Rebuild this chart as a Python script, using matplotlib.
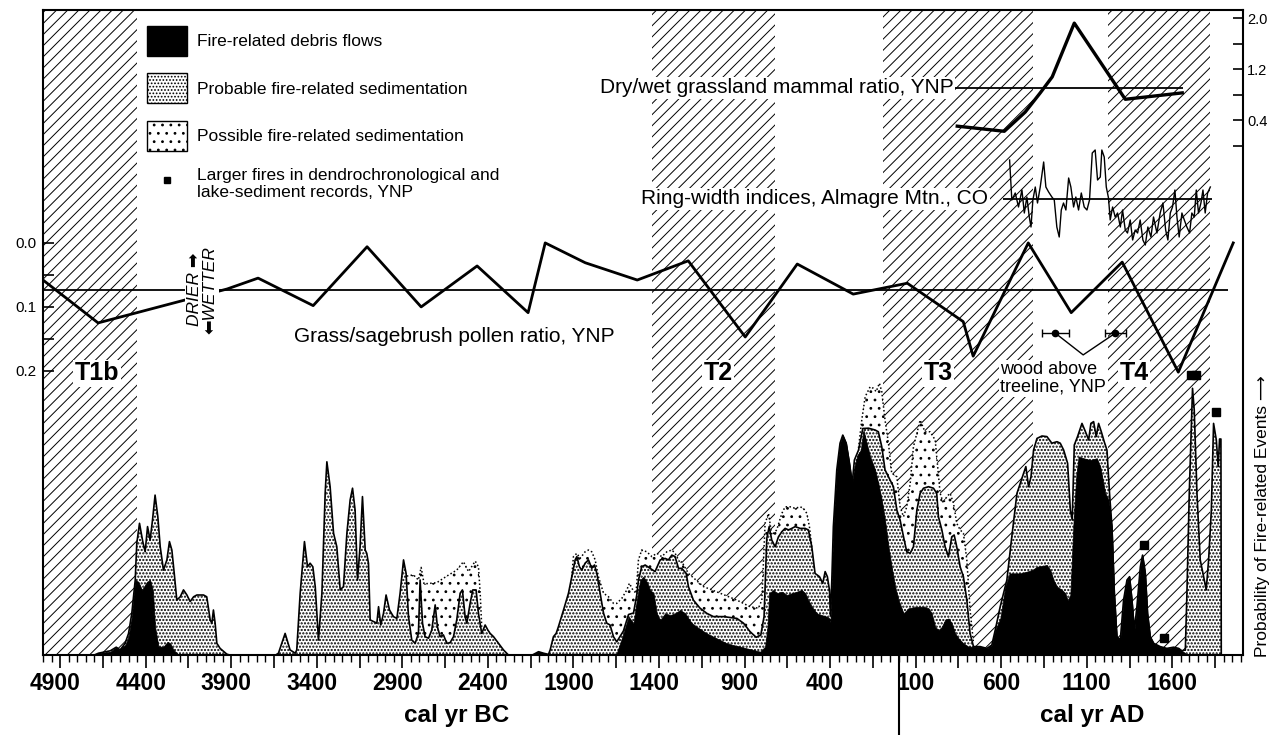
import matplotlib
matplotlib.use("Agg")
import matplotlib.pyplot as plt
from matplotlib.ticker import MultipleLocator, FuncFormatter
from matplotlib.patches import Patch
from matplotlib.lines import Line2D
import matplotlib.transforms as mtransforms

plt.rcParams["font.family"] = ["Liberation Sans", "DejaVu Sans"]
plt.rcParams["hatch.linewidth"] = 0.7

# years: BC negative, AD positive
period_start = [-5000, -1440, -90, 1226]
period_end = [-4450, -721, 787, 1822]
period_label = ["T1b", "T2", "T3", "T4"]
period_label_year = [-4684, -1054, 232, 1378]

pollen_year = [-5000, -4678, -4210, -3924, -3743, -3421, -3106, -2790, -2463, -2165, -2065,
               -1831, -1527, -1229, -896, -592, -265, 51, 378, 436, 758, 1009, 1307, 1635, 1956]
pollen_ratio = [0.058, 0.125, 0.092, 0.072, 0.055, 0.098, 0.006, 0.100, 0.036, 0.109, 0.0,
                0.031, 0.058, 0.028, 0.147, 0.033, 0.080, 0.063, 0.123, 0.177, 0.0, 0.109, 0.030, 0.202, 0.0]
pollen_mean = 0.073

mammal_year = [343, 618, 740, 828, 898, 1027, 1325, 1658]
mammal_ratio = [0.31, 0.23, 0.53, 0.83, 1.08, 1.92, 0.73, 0.83]
mammal_mean = 0.91

ring_year = [649, 662, 682, 701, 721, 735, 750, 764, 774, 785, 799, 812, 828, 848, 861, 877, 896, 910,
             925, 939, 951, 964, 978, 994, 1007, 1023, 1036, 1052, 1068, 1085, 1101, 1116, 1132, 1149,
             1163, 1179, 1188, 1202, 1214, 1227, 1237, 1251, 1266, 1280, 1296, 1309, 1325, 1338, 1354,
             1368, 1383, 1397, 1412, 1428, 1442, 1457, 1475, 1490, 1510, 1529, 1545, 1561, 1574, 1588,
             1601, 1615, 1627, 1640, 1656, 1670, 1685, 1701, 1714, 1728, 1740, 1753, 1767, 1779, 1792,
             1806, 1822]
ring_index = [1.39, 0.99, 1.06, 0.92, 1.09, 0.86, 1.02, 0.82, 0.72, 0.99, 1.12, 0.96, 1.12, 1.37, 1.12,
              1.07, 1.02, 0.99, 0.72, 0.62, 0.89, 0.96, 0.89, 1.21, 1.12, 0.92, 1.02, 0.89, 1.06, 0.92,
              0.89, 0.99, 1.46, 1.49, 1.19, 1.22, 1.49, 1.42, 1.12, 1.01, 0.79, 0.92, 0.82, 0.86, 0.72,
              0.89, 0.69, 0.66, 0.79, 0.59, 0.69, 0.66, 0.79, 0.59, 0.54, 0.72, 0.62, 0.82, 0.66, 0.86,
              0.96, 0.69, 0.59, 0.86, 0.92, 1.09, 0.82, 0.62, 0.86, 0.79, 0.72, 0.66, 0.86, 0.82, 1.09,
              0.86, 0.96, 1.09, 0.86, 1.06, 1.12]
ring_mean = 1.0

debris_year = [-4700, -4676, -4607, -4572, -4559, -4520, -4500, -4481, -4461, -4442, -4422, -4409, -4393,
               -4374, -4358, -4345, -4325, -4296, -4272, -4257, -4237, -4218, -4200,
               -2140, -2104, -2075, -2046, -2036,
               -1660, -1647, -1608, -1578, -1549, -1530, -1510, -1491, -1471, -1452, -1432, -1413, -1393,
               -1364, -1335, -1306, -1276, -1247, -1228, -1208, -1179, -1150, -1121, -1082, -1043, -1004,
               -965, -926, -887, -848, -809, -780, -766, -756, -731, -712, -682, -653, -624, -595, -566,
               -546, -527, -507, -478, -449, -420, -404, -398, -390, -381, -361, -342, -326, -306, -287,
               -271, -258, -240, -221, -205, -186, -166, -151, -137, -118, -98, -79, -59, -40, -20, 0, 29,
               58, 87, 116, 146, 175, 194, 214, 233, 253, 272, 292, 311, 331, 350, 379, 408, 438, 477, 516,
               545, 565, 594, 624, 649, 682, 711, 750, 780, 809, 838, 867, 887, 906, 926, 955, 974, 988,
               1004, 1023, 1039, 1052, 1081, 1120, 1159, 1179, 1208, 1228, 1247, 1261, 1276, 1296, 1315,
               1335, 1350, 1364, 1378, 1393, 1413, 1426, 1442, 1455, 1471, 1491, 1529, 1568, 1607, 1637,
               1656, 1676, 1690]
debris_prob = [0, .006, .011, .026, .017, .033, .061, .128, .25, .244, .217, .228, .244,
               .25, .217, .094, .028, .028, .044, .039, .017, .006, 0,
               0, .011, .006, .002, 0,
               0, .006, .072, .128, .106, .183, .25, .261, .244, .217, .206, .139, .117,
               .139, .133, .139, .15, .139, .122, .106, .094, .083, .072, .061, .05, .039,
               .033, .028, .022, .017, .011, .028, .094, .206, .217, .206, .211, .2, .206, .211, .217,
               .206, .183, .161, .139, .133, .128, .122, .11, .25, .428, .617, .706, .733, .706, .639,
               .572, .628, .667, .683, .75, .706, .661, .639, .617, .572, .517, .45, .361, .294, .228, .183, .139,
               .156, .159, .161, .161, .156, .139, .094, .083, .094, .117, .122, .106, .072, .056, .039, .028, .028, .028, .022,
               .033, .083, .12, .228, .272, .272, .272, .278, .283, .294, .297, .3, .283, .25, .228, .217, .206, .183,
               .2, .45, .6, .661, .656, .65, .656, .628, .539, .517, .428, .206, .061, .05, .183,
               .25, .261, .183, .083, .161, .294, .333, .272, .139, .061, .039, .028, .022, .026, .022,
               .014, .006, 0]

probable_year = [-4700, -4676, -4607, -4572, -4549, -4520, -4500, -4481, -4461, -4452, -4436, -4417, -4403,
                 -4389, -4374, -4360, -4345, -4329, -4315, -4296, -4276, -4261, -4247, -4233, -4218, -4198,
                 -4179, -4159, -4140, -4120, -4101, -4062, -4043, -4023, -4013, -4004, -3994, -3984, -3965,
                 -3926, -3910,
                 -3640, -3624, -3585, -3556, -3526, -3517, -3497, -3472, -3454, -3439, -3423, -3409, -3390,
                 -3370, -3351, -3341, -3322, -3302, -3283, -3263, -3244, -3224, -3205, -3191, -3176, -3162,
                 -3147, -3133, -3117, -3108, -3098, -3088, -3049, -3039, -3026, -3010, -2995, -2975, -2952,
                 -2932, -2913, -2893, -2878, -2864, -2845, -2825, -2806, -2796, -2782, -2767, -2747, -2728,
                 -2708, -2695, -2679, -2660, -2640, -2621, -2601, -2582, -2562, -2549, -2533, -2523, -2504,
                 -2488, -2469, -2455, -2436, -2416, -2400, -2387, -2367, -2338, -2309, -2280,
                 -2140, -2104, -2075, -2046, -2036, -2017, -2001, -1988, -1958, -1929, -1910, -1890, -1880,
                 -1865, -1851, -1832, -1812, -1793, -1777, -1763, -1744, -1724, -1705, -1686, -1666, -1647,
                 -1608, -1578, -1549, -1530, -1520, -1501, -1481, -1452, -1423, -1393, -1364, -1345, -1325,
                 -1306, -1286, -1267, -1241, -1228, -1199, -1160, -1121, -1082, -1023, -945, -906, -868,
                 -832, -805, -786, -770, -756, -741, -721, -702, -682, -663, -643, -624, -604, -575, -546,
                 -527, -507, -488, -462, -443, -429, -416, -404, -398, -390, -381, -361, -342, -326, -306,
                 -287, -271, -258, -234, -209, -176, -137, -118, -98, -79, -49, -30, -10, 9, 29, 48, 68, 87,
                 107, 126, 146, 175, 204, 223, 233, 253, 272, 292, 311, 325, 340, 360, 379, 399, 418, 438,
                 477, 516, 545, 565, 594, 633, 663, 692, 711, 731, 744, 760, 774, 789, 809, 838, 867, 896,
                 926, 945, 965, 988, 1004, 1015, 1027, 1046, 1072, 1091, 1111, 1124, 1140, 1155, 1169, 1185,
                 1202, 1218, 1233, 1247, 1261, 1276, 1296, 1315, 1335, 1350, 1364, 1378, 1393, 1413, 1426,
                 1442, 1455, 1471, 1491, 1529, 1568, 1607, 1637, 1656, 1676, 1685, 1699, 1711, 1718, 1728,
                 1744, 1763, 1783, 1798, 1812, 1828, 1841, 1857, 1868, 1876, 1884, 1886]
probable_prob = [0, .006, .014, .026, .017, .039, .072, .139, .25, .372, .439, .378, .344,
                 .428, .383, .45, .533, .461, .361, .283, .317, .378, .35, .272, .183, .194,
                 .217, .2, .178, .194, .2, .2, .194, .117, .106, .15, .106, .039, .022,
                 .003, 0,
                 0, .006, .072, .017, .006, .017, .206, .378, .294, .306, .294, .228, .05,
                 .206, .539, .644, .561, .406, .361, .217, .228, .406, .517, .556, .483, .25,
                 .361, .528, .35, .339, .306, .117, .106, .161, .1, .139, .2, .15, .128,
                 .122, .206, .317, .272, .128, .05, .039, .072, .25, .106, .061, .056, .083,
                 .167, .094, .061, .067, .039, .041, .061, .117, .206, .217, .128, .106, .172,
                 .217, .217, .139, .072, .1, .083, .072, .061, .039, .017, 0,
                 0, .011, .006, .002, .017, .061, .072, .094, .15, .206, .261, .317, .328,
                 .294, .283, .306, .317, .289, .3, .272, .206, .139, .106, .1, .061, .044,
                 .08, .135, .14, .2, .25, .294, .3, .289, .278, .317, .322, .317, .333,
                 .328, .289, .289, .272, .228, .183, .156, .139, .128, .128, .122, .106, .078,
                 .059, .067, .128, .389, .428, .383, .361, .394, .411, .422, .417, .422, .428, .422, .422,
                 .417, .361, .272, .261, .239, .278, .261, .217, .13, .25, .428, .617, .706, .733, .706,
                 .639, .572, .65, .683, .755, .756, .75, .744, .694, .617, .583, .561, .483, .45, .394, .344, .339, .361,
                 .483, .539, .556, .561, .556, .539, .461, .417, .361, .328, .394, .4, .361, .294, .261, .183, .072, .028,
                 .028, .022, .033, .083, .161, .25, .4, .539, .572, .606, .628, .561, .594, .683, .722, .73, .728, .706,
                 .711, .706, .683, .639, .483, .45, .7, .728, .772, .746, .717, .772, .778, .728, .772, .744,
                 .711, .683, .539, .428, .206, .061, .05, .183, .25, .261, .183, .083, .161, .294, .333,
                 .272, .139, .061, .039, .028, .022, .026, .022, .014, .017, .2, .539, .761, .889, .817,
                 .539, .317, .261, .217, .317, .483, .772, .717, .628, .72, .72, 0]

# possible fire-related sedimentation, only where it rises above the probable curve
possible_year = [
    [-2874, -2835, -2806, -2790, -2773, -2699, -2640, -2582, -2543, -2513, -2474, -2455, -2445, -2436],
    [-1910, -1900, -1880, -1861, -1832, -1812, -1793, -1773, -1754, -1724, -1695, -1666, -1647, -1617,
     -1588, -1573, -1553, -1534, -1520, -1501, -1471, -1442, -1413, -1384, -1354, -1325, -1306, -1276,
     -1267, -1228, -1140, -1043, -945, -868, -819, -799, -780, -760, -741, -712, -682, -663, -634, -604,
     -575, -556, -536, -521, -507],
    [-234, -215, -195, -166, -147, -131, -112, -98, -79, -59, -40, -10, 9, 29, 48, 68, 87, 107, 126, 142,
     155, 184, 214, 243, 262, 282, 301, 321, 340, 360, 379, 399, 418, 438],
]
possible_prob = [
    [.263, .267, .25, .292, .237, .241, .263, .283, .311, .278, .313, .294, .206, .094],
    [.261, .328, .339, .322, .344, .35, .344, .317, .261, .206, .194, .172, .172, .189,
     .217, .239, .217, .206, .317, .35, .344, .328, .339, .328, .344, .35, .339, .306,
     .311, .272, .228, .206, .183, .161, .156, .183, .439, .472, .4, .417, .472, .494, .494, .489,
     .494, .489, .472, .428, .361],
    [.69, .783, .861, .894, .889, .878, .906, .878, .783, .706, .606, .594, .494, .461, .494, .572, .694,
     .739, .783, .761, .744, .744, .717, .539, .506, .528, .539, .506, .439, .417, .406, .317, .15, .039],
]

large_fire_year = [1432, 1549, 1712, 1738, 1855]
large_fire_prob = [0.367, 0.057, 0.933, 0.933, 0.81]

wood_year = [916, 1267]
wood_err = [80, 60]
wood_level = 0.141

fig = plt.figure(figsize=(12.79, 7.35), dpi=100)
ax = fig.add_axes([43 / 1279, 80 / 735, 1200 / 1279, 645 / 735])
ax.set_xlim(-5000, 2013)
ax.set_ylim(0, 2.15)
ax.set_yticks([])
for s in ax.spines.values():
    s.set_linewidth(1.5)

ax.xaxis.set_major_locator(MultipleLocator(250, offset=100))
ax.xaxis.set_minor_locator(MultipleLocator(50))


def year_label(v, pos):
    v = int(round(v))
    return str(abs(v)) if (v - 100) % 500 == 0 else ""


ax.xaxis.set_major_formatter(FuncFormatter(year_label))
ax.tick_params(axis="x", which="major", length=9, width=1.2, pad=3, labelsize=16.5)
ax.tick_params(axis="x", which="minor", length=5, width=1.0)

for a, b in zip(period_start, period_end):
    ax.axvspan(a, b, facecolor="none", edgecolor="black", hatch="///", lw=0, zorder=0.5)

plt.rcParams["hatch.linewidth"] = 0.8
for xs, ys in zip(possible_year, possible_prob):
    ax.fill_between(xs, 0, ys, facecolor="white", edgecolor="black", hatch="..", lw=0, zorder=1.5)
    ax.plot(xs, ys, ls=(0, (1, 1.5)), color="black", lw=1.1, zorder=2.0)
plt.rcParams["hatch.linewidth"] = 1.05
ax.fill_between(probable_year, 0, probable_prob, facecolor="white", edgecolor="black",
                hatch=".....", lw=0, zorder=1.7)
plt.rcParams["hatch.linewidth"] = 0.7
ax.fill_between(debris_year, 0, debris_prob, facecolor="black", edgecolor="black", lw=0.5, zorder=1.9)
ax.plot(probable_year, probable_prob, color="black", lw=1.2, zorder=2.1)
ax.plot(large_fire_year, large_fire_prob, ls="", marker="s", color="black", ms=5.5, zorder=2.5)

for lab, x in zip(period_label, period_label_year):
    ax.text(x, 0.94, lab, ha="center", va="center", fontsize=18, fontweight="bold", zorder=5,
            bbox=dict(facecolor="white", edgecolor="none", pad=1))

ax.text(594, 0.923, "wood above\ntreeline, YNP", ha="left", va="center", fontsize=13,
        linespacing=1.0, zorder=5, bbox=dict(facecolor="white", edgecolor="none", pad=1))

# year 0 divider and era labels
ax.plot([0, 0], [0, -0.124], transform=ax.get_xaxis_transform(), color="black", lw=1.5, clip_on=False)
ax.text(-2580, -0.094, "cal yr BC", transform=ax.get_xaxis_transform(), ha="center", va="center",
        fontsize=17.5, fontweight="bold", family=["Liberation Sans Narrow", "Liberation Sans"])
ax.text(1130, -0.094, "cal yr AD", transform=ax.get_xaxis_transform(), ha="center", va="center",
        fontsize=17.5, fontweight="bold", family=["Liberation Sans Narrow", "Liberation Sans"])
ax.text(1.016, -0.003, "Probability of Fire-related Events \u27f6", transform=ax.transAxes,
        rotation=90, ha="center", va="bottom", fontsize=12.5)

# pollen ratio (left axis, inverted)
ax_pol = ax.twinx()
ax_pol.set_ylim(0.644, -0.364)
ax_pol.yaxis.tick_left()
ax_pol.set_yticks([0.0, 0.1, 0.2])
ax_pol.set_yticks([0.05, 0.15], minor=True)
ax_pol.yaxis.set_major_formatter(FuncFormatter(lambda v, p: f"{v:.1f}"))
ax_pol.tick_params(axis="y", which="both", direction="in", length=8, width=1.2, labelsize=11, pad=5)
for s in ax_pol.spines.values():
    s.set_visible(False)
ax_pol.hlines(pollen_mean, -5000, 1925, color="black", lw=1.3, zorder=2)
ax_pol.plot(pollen_year, pollen_ratio, color="black", lw=2.0, zorder=3)
ax_pol.text(-2597, 0.147, "Grass/sagebrush pollen ratio, YNP", ha="center", va="center", fontsize=15)
ax_pol.text(-4070, pollen_mean, "DRIER \u27a1\n\u2b05WETTER", rotation=90, ha="center", va="center",
            style="italic", fontsize=12.5, multialignment="center", linespacing=1.1, zorder=10,
            bbox=dict(facecolor="white", edgecolor="none", pad=1))
ax_pol.errorbar(wood_year, [wood_level] * 2, xerr=wood_err, fmt="o", color="black", ms=4.5,
                capsize=3, elinewidth=1, capthick=1, zorder=4)
ax_pol.plot([wood_year[0], 1079, wood_year[1]], [wood_level, 0.175, wood_level], color="black", lw=1, zorder=4)

# ring-width indices
ax_ring = ax.twinx()
ax_ring.set_ylim(-3.56, 2.89)
ax_ring.set_yticks([])
for s in ax_ring.spines.values():
    s.set_visible(False)
ax_ring.hlines(ring_mean, 612, 1834, color="black", lw=1.3, zorder=2)
ax_ring.plot(ring_year, ring_index, color="black", lw=1.0, zorder=3)
ax_ring.text(524, ring_mean, "Ring-width indices, Almagre Mtn., CO", ha="right", va="center",
             fontsize=15, zorder=5, bbox=dict(facecolor="white", edgecolor="none", pad=1))

# mammal ratio (right axis)
ax_mam = ax.twinx()
ax_mam.set_ylim(-7.953, 2.125)
ax_mam.set_yticks([0, 0.4, 0.8, 1.2, 1.6, 2.0])
ax_mam.set_yticklabels(["", "0.4", "", "1.2", "", "2.0"])
ax_mam.tick_params(axis="y", direction="in", length=7, width=1.2, labelsize=10.5, pad=3)
for s in ax_mam.spines.values():
    s.set_visible(False)
ax_mam.hlines(mammal_mean, 325, 1665, color="black", lw=1.3, zorder=2)
ax_mam.plot(mammal_year, mammal_ratio, color="black", lw=2.4, zorder=3)
ax_mam.text(320, mammal_mean, "Dry/wet grassland mammal ratio, YNP", ha="right", va="center",
            fontsize=15, zorder=5, bbox=dict(facecolor="white", edgecolor="none", pad=1))

plt.rcParams["hatch.linewidth"] = 1.05
handles = [Patch(facecolor="black", edgecolor="black"),
           Patch(facecolor="white", edgecolor="black", hatch=".....", lw=1)]
plt.rcParams["hatch.linewidth"] = 0.8
handles += [Patch(facecolor="white", edgecolor="black", hatch="..", lw=1),
            Line2D([], [], ls="", marker="s", color="black", ms=5)]
labels = ["Fire-related debris flows", "Probable fire-related sedimentation",
          "Possible fire-related sedimentation",
          "Larger fires in dendrochronological and\nlake-sediment records, YNP"]
ax_mam.legend(handles, labels, loc="upper left", bbox_to_anchor=(104 / 1200, 1 - 16 / 645),
              frameon=False, fontsize=12.5, handlelength=2.3, handleheight=2.28, handletextpad=0.6,
              labelspacing=1.0, borderpad=0, borderaxespad=0)

fig.canvas.draw()
shift = mtransforms.ScaledTranslation(-5 / 100, 0, fig.dpi_scale_trans)
for t in ax.get_xticklabels():
    t.set_fontweight("bold")
    t.set_fontfamily(["Liberation Sans Narrow", "Liberation Sans"])
    if t.get_position()[0] < 0:
        t.set_transform(t.get_transform() + shift)

fig.savefig("out.png", dpi=100)
